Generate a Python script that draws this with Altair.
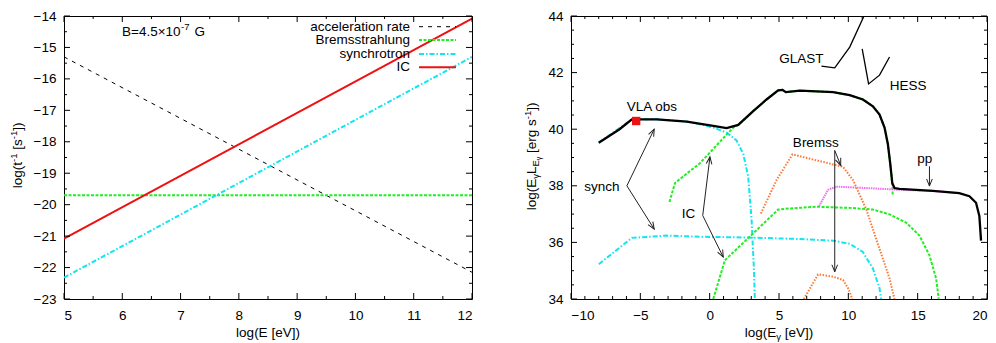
import math
import altair as alt
import pandas as pd

FONT = "Liberation Sans"
FS = 13.5
W1, W2, H = 408, 416, 283

# ---------------- left panel data ----------------
acc_x = [5, 12]
acc_y = [-15.3, -22.15]
brem_x = [5, 12]
brem_y = [-19.7, -19.7]
syn_x = [5, 12]
syn_y = [-22.32, -15.3]
ic_x = [5, 12]
ic_y = [-21.08, -14.08]

left_xmaj = [5, 6, 7, 8, 9, 10, 11, 12]
left_xmin = [5.5, 6.5, 7.5, 8.5, 9.5, 10.5, 11.5]
left_ymaj = [-23, -22, -21, -20, -19, -18, -17, -16, -15, -14]
left_ymin = [-22.5, -21.5, -20.5, -19.5, -18.5, -17.5, -16.5, -15.5, -14.5]

legend_labels = ["acceleration rate", "Bremsstrahlung", "synchrotron", "IC"]

# ---------------- right panel data ----------------
tot_x = [-8, -6.5, -5.61, -3.81, -1.65, 0.26, 1.22, 2.06, 3.14, 4.1, 4.94, 5.25, 5.49, 6.5, 8.9,
         10.1, 11.05, 11.77, 12.25, 12.61, 12.85, 13.02, 13.17, 13.33, 13.69, 16.09, 18.0, 18.73,
         19.21, 19.45, 19.57]
tot_y = [39.52, 40.0, 40.35, 40.35, 40.27, 40.12, 40.04, 40.15, 40.64, 41.05, 41.37, 41.39, 41.31,
         41.36, 41.31, 41.2, 41.05, 40.81, 40.52, 40.06, 39.48, 38.79, 38.09, 37.92, 37.89, 37.82,
         37.74, 37.63, 37.4, 36.93, 36.06]

syn1_x = [-8, -5.61, -3.81, -1.65, -0.7, 0.26, 1.22, 1.94, 2.42, 2.78, 3.02, 3.19, 3.26]
syn1_y = [39.52, 40.35, 40.35, 40.27, 40.17, 40.06, 39.88, 39.6, 39.13, 38.32, 36.82, 35.08, 34.0]
syn2_x = [-7.99, -5.61, -3.09, -0.7, 2.9, 6.5, 8.9, 10.1, 11.05, 11.77, 12.25, 12.37]
syn2_y = [35.23, 36.16, 36.24, 36.2, 36.17, 36.12, 36.06, 35.95, 35.66, 35.08, 34.38, 34.0]

ic1_x = [-2.9, -2.5, -0.7, 1.7, 2.06, 3.14, 4.1, 4.94, 5.25, 5.49, 6.5, 8.9, 10.1, 11.05, 11.77,
         12.25, 12.61, 12.85, 13.02, 13.17, 13.2]
ic1_y = [37.43, 38.1, 38.8, 40.06, 40.15, 40.64, 41.05, 41.37, 41.39, 41.31, 41.36, 41.31, 41.2,
         41.05, 40.81, 40.52, 40.06, 39.48, 38.79, 38.09, 37.65]
ic2_x = [0.26, 1.1, 4.94, 5.78, 7.7, 10.1, 11.77, 12.97, 14.17, 15.13, 15.85, 16.33, 16.52]
ic2_y = [34.0, 35.37, 37.16, 37.2, 37.26, 37.22, 37.16, 36.99, 36.7, 36.24, 35.54, 34.73, 34.0]

br1_x = [3.69, 4.82, 5.97, 7.7, 9.62, 10.34, 11.3, 12.25, 12.97, 13.33]
br1_y = [37.02, 38.2, 39.11, 38.9, 38.67, 38.2, 37.16, 35.77, 34.73, 34.0]
br2_x = [6.79, 7.82, 8.9, 9.62, 9.98, 10.29]
br2_y = [34.0, 34.87, 34.79, 34.67, 34.38, 34.0]

pp_x = [7.89, 8.54, 9.14, 11.3, 13.69, 16.09, 18.0]
pp_y = [37.28, 37.86, 37.97, 37.92, 37.86, 37.82, 37.74]

glast_x = [8.06, 9.02, 10.1, 11.13]
glast_y = [42.23, 42.17, 42.9, 44.0]
hess_x = [11.0, 11.46, 12.25, 12.97]
hess_y = [42.84, 41.6, 41.91, 42.55]

vla_x = [-5.3]
vla_y = [40.29]

ann_text = ["GLAST", "HESS", "VLA obs", "Bremss", "pp", "synch", "IC"]
ann_x = [6.62, 14.32, -4.17, 7.65, 15.52, -7.77, -1.53]
ann_y = [42.49, 41.51, 40.79, 39.5, 38.94, 37.96, 37.01]

arr_x1 = [-5.97, -5.97, -0.5, -0.5, 9.02, 9.02, 15.85]
arr_y1 = [38.0, 38.0, 36.95, 36.95, 39.25, 39.25, 38.69]
arr_x2 = [-4.0, -4.0, 0.02, 0.98, 9.45, 9.02, 15.85]
arr_y2 = [40.0, 36.47, 39.02, 35.48, 38.72, 34.96, 37.99]

right_xmaj = [-10, -5, 0, 5, 10, 15, 20]
right_xmin = [v for v in range(-10, 21) if v % 5 != 0]
right_ymaj = [34, 36, 38, 40, 42, 44]
right_ymin = [34 + 0.5 * k for k in range(21) if (34 + 0.5 * k) not in right_ymaj]

# ---------------- helpers ----------------
CW = {'l': .222, 'o': .556, 'g': .556, '(': .333, ')': .333, 't': .278, 'E': .667, 'L': .556,
      ' ': .278, '[': .278, ']': .278, 's': .5, 'e': .556, 'r': .333, 'V': .667, '-': .333,
      '1': .556, 'γ': .5}


def tw(s, size):
    return sum(CW.get(c, .556) for c in s) * size


def txt(s, x, y, size=FS, align="left", baseline="alphabetic", angle=0):
    return alt.Chart(pd.DataFrame({"s": [s]})).mark_text(
        align=align, baseline=baseline, fontSize=size, font=FONT, angle=angle, color="black"
    ).encode(x=alt.value(x), y=alt.value(y), text="s:N")


def rich_h(pieces, cx, yb):
    total = sum(tw(p, s) for p, s, _ in pieces)
    x = cx - total / 2
    out = []
    for p, s, sh in pieces:
        body = p.lstrip(" ")
        lead = tw(p[:len(p) - len(body)], s)
        out.append(txt(body, x + lead, yb - sh, size=s))
        x += tw(p, s)
    return out


def rich_v(pieces, xb, cy):
    total = sum(tw(p, s) for p, s, _ in pieces)
    y = cy + total / 2
    out = []
    for p, s, sh in pieces:
        body = p.lstrip(" ")
        lead = tw(p[:len(p) - len(body)], s)
        out.append(txt(body, xb - sh, y - lead, size=s, angle=270))
        y -= tw(p, s)
    return out


def make_line(xs, ys, xsc, ysc, xax, yax, color, width, dash=None):
    df = pd.DataFrame({"x": xs, "y": ys, "i": list(range(len(xs)))})
    kw = dict(color=color, strokeWidth=width, clip=True)
    if dash:
        kw["strokeDash"] = dash
    return alt.Chart(df).mark_line(**kw).encode(
        x=alt.X("x:Q", scale=xsc, axis=xax), y=alt.Y("y:Q", scale=ysc, axis=yax), order="i:Q")


def tick_layers(xmaj, xmin, ymaj, ymin, xsc, ysc, xax, yax, W):
    out = []
    for vals, L in ((xmaj, 6), (xmin, 3)):
        base = alt.Chart(pd.DataFrame({"v": vals})).mark_rule(color="black", strokeWidth=1)
        out.append(base.encode(x=alt.X("v:Q", scale=xsc, axis=xax), y=alt.value(H), y2=alt.value(H - L)))
        out.append(base.encode(x=alt.X("v:Q", scale=xsc, axis=xax), y=alt.value(0), y2=alt.value(L)))
    for vals, L in ((ymaj, 6), (ymin, 3)):
        base = alt.Chart(pd.DataFrame({"v": vals})).mark_rule(color="black", strokeWidth=1)
        out.append(base.encode(y=alt.Y("v:Q", scale=ysc, axis=yax), x=alt.value(0), x2=alt.value(L)))
        out.append(base.encode(y=alt.Y("v:Q", scale=ysc, axis=yax), x=alt.value(W), x2=alt.value(W - L)))
    return out


AXC = dict(title=None, ticks=False, domain=False, grid=False, labelFont=FONT, labelFontSize=FS,
           labelColor="black")

# ---------------- left panel ----------------
lxs = alt.Scale(domain=[5, 12], nice=False, zero=False)
lys = alt.Scale(domain=[-23, -14], nice=False, zero=False)
lxa = alt.Axis(values=left_xmaj, labelPadding=9, **AXC)
lya = alt.Axis(values=left_ymaj, labelPadding=8, **AXC)

BLACK = "#000000"
GREEN = "#22ee22"
CYAN = "#11e6f0"
RED = "#ee1111"
ORANGE = "#ff7733"
MAGENTA = "#f070f0"

left_layers = [
    make_line(acc_x, acc_y, lxs, lys, lxa, lya, BLACK, 1, [4, 5]),
    make_line(brem_x, brem_y, lxs, lys, lxa, lya, GREEN, 2, [3, 1.5]),
    make_line(syn_x, syn_y, lxs, lys, lxa, lya, CYAN, 2, [5, 2, 1.5, 2]),
    make_line(ic_x, ic_y, lxs, lys, lxa, lya, RED, 2),
]
left_layers += tick_layers(left_xmaj, left_xmin, left_ymaj, left_ymin, lxs, lys, lxa, lya, W1)

# legend (gnuplot style: label then sample)
leg_styles = [(BLACK, 1, [4, 5]), (GREEN, 2, [3, 1.5]), (CYAN, 2, [5, 2, 1.5, 2]), (RED, 2, None)]
leg_rows = [10.7, 24, 38, 51.3]
for lab, (col, wd, dash), yy in zip(legend_labels, leg_styles, leg_rows):
    left_layers.append(txt(lab, 346, yy, size=FS, align="right", baseline="middle"))
    kw = dict(color=col, strokeWidth=wd)
    if dash:
        kw["strokeDash"] = dash
    left_layers.append(alt.Chart(pd.DataFrame({"a": [0]})).mark_rule(**kw).encode(
        x=alt.value(355), x2=alt.value(392), y=alt.value(yy)))

# B label
left_layers.append(txt("B=4.5×10", 58, 15.7, size=FS, baseline="middle"))
left_layers.append(txt("-7", 117, 10.5, size=9.5, baseline="middle"))
left_layers.append(txt("G", 130.5, 15.7, size=FS, baseline="middle"))

# axis titles
left_layers += rich_h([("log(E [eV])", FS, 0)], W1 / 2, 321.4)
left_layers += rich_v([("log(t", FS, 0), ("-1", 9.5, 5), (" [s", FS, 0), ("-1", 9.5, 5), ("])", FS, 0)],
                      -42, 139.4)

left = alt.layer(*left_layers).properties(width=W1, height=H)

# ---------------- right panel ----------------
rxs = alt.Scale(domain=[-10, 20], nice=False, zero=False)
rys = alt.Scale(domain=[34, 44], nice=False, zero=False)
rxa = alt.Axis(values=right_xmaj, labelPadding=9, **AXC)
rya = alt.Axis(values=right_ymaj, labelPadding=8, **AXC)

right_layers = [
    make_line(syn1_x, syn1_y, rxs, rys, rxa, rya, CYAN, 2, [5, 2, 1.5, 2]),
    make_line(syn2_x, syn2_y, rxs, rys, rxa, rya, CYAN, 2, [5, 2, 1.5, 2]),
    make_line(ic1_x, ic1_y, rxs, rys, rxa, rya, GREEN, 2, [3, 1.5]),
    make_line(ic2_x, ic2_y, rxs, rys, rxa, rya, GREEN, 2, [3, 1.5]),
    make_line(br1_x, br1_y, rxs, rys, rxa, rya, ORANGE, 2, [1.5, 1.5]),
    make_line(br2_x, br2_y, rxs, rys, rxa, rya, ORANGE, 2, [1.5, 1.5]),
    make_line(pp_x, pp_y, rxs, rys, rxa, rya, MAGENTA, 2, [1.5, 0.8]),
    make_line(tot_x, tot_y, rxs, rys, rxa, rya, BLACK, 2.3),
    make_line(glast_x, glast_y, rxs, rys, rxa, rya, BLACK, 1.3),
    make_line(hess_x, hess_y, rxs, rys, rxa, rya, BLACK, 1.3),
]

# arrows
pxu, pyu = W2 / 30.0, H / 10.0
arr_df = pd.DataFrame({"x1": arr_x1, "y1": arr_y1, "x2": arr_x2, "y2": arr_y2})
arr_df["ang"] = [
    math.degrees(math.atan2(-(b2 - b1) * pyu, (a2 - a1) * pxu)) % 360
    for a1, b1, a2, b2 in zip(arr_x1, arr_y1, arr_x2, arr_y2)
]
right_layers.append(alt.Chart(arr_df).mark_rule(color="#222222", strokeWidth=1).encode(
    x=alt.X("x1:Q", scale=rxs, axis=rxa), y=alt.Y("y1:Q", scale=rys, axis=rya), x2="x2:Q", y2="y2:Q"))
right_layers.append(alt.Chart(arr_df).mark_point(
    shape="M -1 -0.4 L 0 0 L -1 0.4", filled=False, color="#222222", strokeWidth=1, size=200, opacity=1
).encode(x=alt.X("x2:Q", scale=rxs, axis=rxa), y=alt.Y("y2:Q", scale=rys, axis=rya),
         angle=alt.Angle("ang:Q", scale=None)))

# VLA point
right_layers.append(alt.Chart(pd.DataFrame({"x": vla_x, "y": vla_y})).mark_point(
    shape="square", filled=True, color=RED, size=70, opacity=1).encode(
    x=alt.X("x:Q", scale=rxs, axis=rxa), y=alt.Y("y:Q", scale=rys, axis=rya)))

# annotations
right_layers.append(alt.Chart(pd.DataFrame({"x": ann_x, "y": ann_y, "t": ann_text})).mark_text(
    font=FONT, fontSize=FS, color="black", align="center", baseline="middle").encode(
    x=alt.X("x:Q", scale=rxs, axis=rxa), y=alt.Y("y:Q", scale=rys, axis=rya), text="t:N"))

right_layers += tick_layers(right_xmaj, right_xmin, right_ymaj, right_ymin, rxs, rys, rxa, rya, W2)

right_layers += rich_h([("log(E", FS, 0), ("γ", 9.5, -3), (" [eV])", FS, 0)], W2 / 2, 321.4)
right_layers += rich_v([("log(E", FS, 0), ("γ", 9.5, -3), ("L", FS, 0), ("E", 9.5, -3), ("γ", 7, -5),
                        (" [erg s", FS, 0), ("-1", 9.5, 5), ("])", FS, 0)], -35.5, 140.4)

right = alt.layer(*right_layers).properties(width=W2, height=H)

chart = alt.hconcat(left, right, spacing=49).properties(
    padding={"left": 0, "top": 0, "right": 0, "bottom": 0}
).configure_view(stroke="black", strokeWidth=1).configure_axis(labelFont=FONT)

chart.save("out.html", embed_options={"renderer": "svg", "actions": False})
